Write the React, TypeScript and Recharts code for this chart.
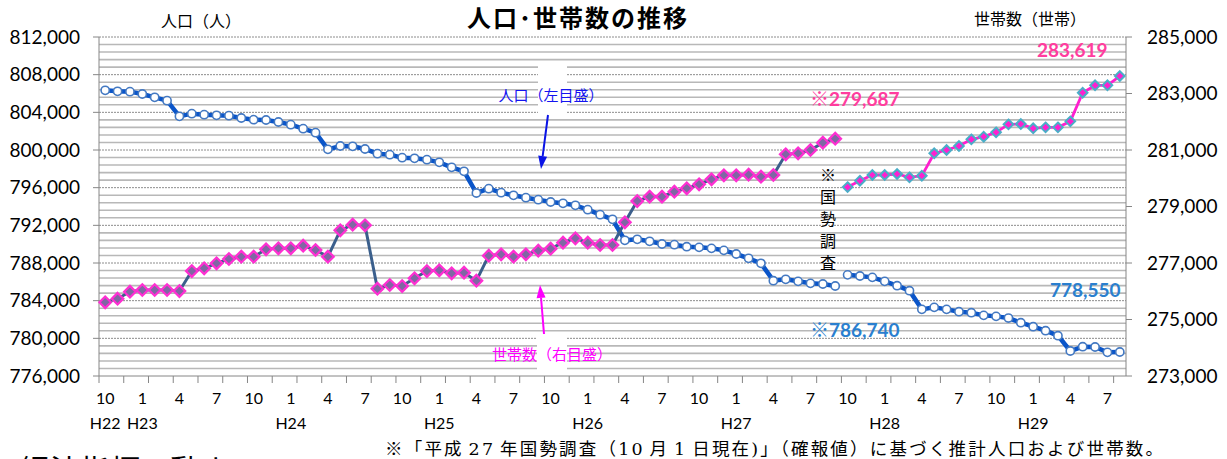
import React from 'react';
import { LineChart, Line, XAxis, YAxis, CartesianGrid } from 'recharts';

// 人口･世帯数の推移 (H22.10 - H29.8, monthly)
const START_YEAR = 2010;
const START_MONTH = 10;
const CENSUS_INDEX = 60; // H27.10 国勢調査

// population (left axis), before the H27 census
const POP_OLD = [
  806336, 806230, 806195, 805947, 805593, 805239, 803575, 803858, 803752, 803681,
  803646, 803398, 803221, 803186, 802973, 802690, 802265, 801841, 800071, 800425,
  800389, 800106, 799611, 799504, 799186, 799115, 798973, 798690, 798159, 797735,
  795434, 795894, 795469, 795186, 794938, 794726, 794478, 794336, 794124, 793664,
  793133, 792637, 790407, 790513, 790301, 790018, 789947, 789733, 789662, 789556,
  789344, 788955, 788495, 787964, 786123, 786265, 786052, 785840, 785769, 785556,
];
// population based on the H27 census
const POP_NEW = [
  786740, 786618, 786477, 786052, 785591, 785060, 783078, 783290, 783078, 782829,
  782722, 782439, 782333, 782156, 781661, 781236, 780812, 780281, 778653, 779113,
  779078, 778511, 778550,
];
// households (right axis), before the census
const HH_OLD = [
  275608, 275736, 275984, 276044, 276044, 276044, 276008, 276716, 276811, 276988,
  277141, 277224, 277224, 277483, 277519, 277519, 277613, 277460, 277224, 278156,
  278357, 278333, 276091, 276221, 276185, 276457, 276716, 276740, 276634, 276658,
  276374, 277259, 277306, 277224, 277306, 277436, 277507, 277719, 277872, 277719,
  277637, 277637, 278439, 279194, 279348, 279348, 279525, 279643, 279784, 279961,
  280103, 280103, 280127, 280056, 280115, 280847, 280882, 281000, 281259, 281401,
];
// households based on the census
const HH_NEW = [
  279687, 279914, 280115, 280115, 280150, 280032, 280091, 280882, 281000, 281141,
  281377, 281472, 281625, 281908, 281920, 281767, 281802, 281802, 282014, 283029,
  283289, 283289, 283619,
];

const N = POP_OLD.length + POP_NEW.length;
const MONTHS = Array.from({ length: N }, (_, i) => ((START_MONTH - 1 + i) % 12) + 1);
const LABEL_MONTHS = [10, 1, 4, 7];

const LEFT_TICKS = [776000, 780000, 784000, 788000, 792000, 796000, 800000, 804000, 808000, 812000];
const RIGHT_TICKS = [273000, 275000, 277000, 279000, 281000, 283000, 285000];
const MINOR_GRID = Array.from({ length: 44 }, (_, k) => 776800 + k * 800).filter((v) => v % 4000 !== 0);
const MAJOR_GRID = LEFT_TICKS.slice(1);

const W = 1227;
const H = 459;
const LEFT_W = 99;
const RIGHT_W = 101;
const STEP = (W - LEFT_W - RIGHT_W) / N;
const AXIS_GRAY = '#868686';
const FONT = 'Lato, "Noto Sans", sans-serif';
const JP = '"Noto Sans CJK JP", sans-serif';

const data = MONTHS.map((m, i) => {
  const yearIdx = Math.floor((START_MONTH - 1 + i) / 12);
  return {
    i,
    month: m,
    year: i === 0 || m === 1 ? `H${START_YEAR + yearIdx - 1988}` : '',
    popOld: i < CENSUS_INDEX ? POP_OLD[i] : null,
    popNew: i >= CENSUS_INDEX ? POP_NEW[i - CENSUS_INDEX] : null,
    hhOld: i < CENSUS_INDEX ? HH_OLD[i] : null,
    hhNew: i >= CENSUS_INDEX ? HH_NEW[i - CENSUS_INDEX] : null,
  };
});

const fmt = (v: number) => v.toLocaleString('en-US');

const MonthTick = (props: any) => {
  const { x, y, payload } = props;
  const row = data[payload.value];
  if (!row) return <g />;
  return (
    <g>
      {row.i % 2 === 0 && (
        <line x1={x - STEP / 2} x2={x - STEP / 2} y1={y} y2={y + 7} stroke={AXIS_GRAY} strokeWidth={1} />
      )}
      {LABEL_MONTHS.includes(row.month) && (
        <text x={x} y={y + 28} textAnchor="middle" fontFamily={FONT} fontSize={16} fill="#000">
          {row.month}
        </text>
      )}
      {row.year && (
        <text x={x} y={y + 53} textAnchor="middle" fontFamily={FONT} fontSize={16} fill="#000">
          {row.year}
        </text>
      )}
    </g>
  );
};

const circleDot = (props: any) => {
  const { cx, cy, index } = props;
  if (cx == null || cy == null || props.value == null) return <g key={`c${index}`} />;
  return <circle key={`c${index}`} cx={cx} cy={cy} r={4.1} fill="#fff" stroke="#4479c2" strokeWidth={1.6} />;
};

const diamondDot = (fill: string, stroke: string, s: number, sw: number) => (props: any) => {
  const { cx, cy, index } = props;
  if (cx == null || cy == null || props.value == null) return <g key={`d${index}`} />;
  const pts = `${cx},${cy - s} ${cx + s},${cy} ${cx},${cy + s} ${cx - s},${cy}`;
  return <polygon key={`d${index}`} points={pts} fill={fill} stroke={stroke} strokeWidth={sw} />;
};

function Arrow({ x1, y1, x2, y2, color }: { x1: number; y1: number; x2: number; y2: number; color: string }) {
  const ang = Math.atan2(y2 - y1, x2 - x1);
  const len = 13;
  const half = 4.5;
  const bx = x2 - len * Math.cos(ang);
  const by = y2 - len * Math.sin(ang);
  const px = -Math.sin(ang) * half;
  const py = Math.cos(ang) * half;
  return (
    <g>
      <line x1={x1} y1={y1} x2={bx} y2={by} stroke={color} strokeWidth={2} />
      <polygon points={`${x2},${y2} ${bx + px},${by + py} ${bx - px},${by - py}`} fill={color} />
    </g>
  );
}

export default function App() {
  return (
    <div style={{ position: 'absolute', left: 0, top: 0, width: W, height: H, background: '#fff' }}>
      <LineChart width={W} height={H} data={data} margin={{ top: 37, right: 0, bottom: 23, left: 0 }}>
        <CartesianGrid yAxisId="left" vertical={false} horizontalValues={MINOR_GRID} stroke="#b8b8b8" strokeWidth={1.6} />
        <CartesianGrid yAxisId="left" vertical={false} horizontalValues={MAJOR_GRID} stroke="#8c8c8c" strokeDasharray="2 1" strokeWidth={1} />
        <XAxis
          dataKey="i"
          type="category"
          interval={0}
          height={60}
          tickSize={0}
          tickMargin={0}
          tickLine={false}
          axisLine={{ stroke: AXIS_GRAY }}
          padding={{ left: STEP / 2, right: STEP / 2 }}
          tick={<MonthTick />}
        />
        <YAxis
          yAxisId="left"
          width={LEFT_W}
          domain={[776000, 812000]}
          ticks={LEFT_TICKS}
          interval={0}
          tickFormatter={fmt}
          tickSize={6}
          tickMargin={13}
          axisLine={{ stroke: AXIS_GRAY }}
          tickLine={{ stroke: AXIS_GRAY }}
          tick={{ fontFamily: FONT, fontSize: 19, fill: '#000' }}
        />
        <YAxis
          yAxisId="right"
          orientation="right"
          width={RIGHT_W}
          domain={[273000, 285000]}
          ticks={RIGHT_TICKS}
          interval={0}
          tickFormatter={fmt}
          tickSize={6}
          tickMargin={15}
          axisLine={{ stroke: AXIS_GRAY }}
          tickLine={{ stroke: AXIS_GRAY }}
          tick={{ fontFamily: FONT, fontSize: 19, fill: '#000' }}
        />
        <Line yAxisId="left" dataKey="popOld" stroke="#0a55c9" strokeWidth={4.5} dot={circleDot} activeDot={false} isAnimationActive={false} />
        <Line yAxisId="left" dataKey="popNew" stroke="#0a55c9" strokeWidth={4.5} dot={circleDot} activeDot={false} isAnimationActive={false} />
        <Line yAxisId="right" dataKey="hhOld" stroke="#3b5f8c" strokeWidth={3} dot={diamondDot('#7f67a3', '#ff2fd2', 5.8, 2.2)} activeDot={false} isAnimationActive={false} />
        <Line yAxisId="right" dataKey="hhNew" stroke="#ff1fcf" strokeWidth={2.8} dot={diamondDot('#ff1fcf', '#4aaec8', 4.8, 2)} activeDot={false} isAnimationActive={false} />
      </LineChart>

      <svg width={W} height={H} style={{ position: 'absolute', left: 0, top: 0, pointerEvents: 'none' }}>
        <text x={578} y={27} textAnchor="middle" fontFamily={JP} fontSize={24} fontWeight="bold" letterSpacing={2} fill="#000">
          人口･世帯数の推移
        </text>
        <text x={201} y={27} textAnchor="middle" fontFamily={JP} fontSize={16} fill="#000">人口（人）</text>
        <text x={1030} y={25} textAnchor="middle" fontFamily={JP} fontSize={16} fill="#000">世帯数（世帯）</text>

        {/* label boxes that blank the grid */}
        <rect x={538} y={62} width={29} height={51} fill="#fff" />
        <rect x={537} y={335} width={30} height={37} fill="#fff" />
        <text x={551} y={101} textAnchor="middle" fontFamily={JP} fontSize={15} fill="#1414f0">人口（左目盛）</text>
        <Arrow x1={548} y1={115} x2={541} y2={169} color="#0a14e6" />
        <text x={552} y={360} textAnchor="middle" fontFamily={JP} fontSize={15} fill="#ff00ff">世帯数（右目盛）</text>
        <Arrow x1={544} y1={334} x2={540} y2={285} color="#ff00ff" />

        <text x={810} y={106} fontFamily={FONT} fontSize={19} fontWeight="bold" fill="#ff3d9e">
          <tspan fontFamily={JP}>※</tspan>279,687
        </text>
        <text x={1037} y={57} fontFamily={FONT} fontSize={19} fontWeight="bold" fill="#ff3d9e">283,619</text>
        <text x={810} y={337} fontFamily={FONT} fontSize={19} fontWeight="bold" fill="#2a7fcf">
          <tspan fontFamily={JP}>※</tspan>786,740
        </text>
        <text x={1050} y={297} fontFamily={FONT} fontSize={19} fontWeight="bold" fill="#2a7fcf">778,550</text>

        {['※', '国', '勢', '調', '査'].map((c, k) => (
          <text key={c} x={828} y={181 + k * 22} textAnchor="middle" fontFamily={JP} fontSize={16} fill="#000">{c}</text>
        ))}

        <text x={385} y={455} fontFamily={`"DejaVu Serif", ${JP}`} fontSize={17.5} letterSpacing={2.2} wordSpacing={-3} fill="#000">
          ※「平成 27 年国勢調査（10 月 1 日現在)」（確報値）に基づく推計人口および世帯数。
        </text>
        <text x={20} y={481} fontFamily={JP} fontSize={30} fill="#000">経済指標の動き</text>
      </svg>
    </div>
  );
}
